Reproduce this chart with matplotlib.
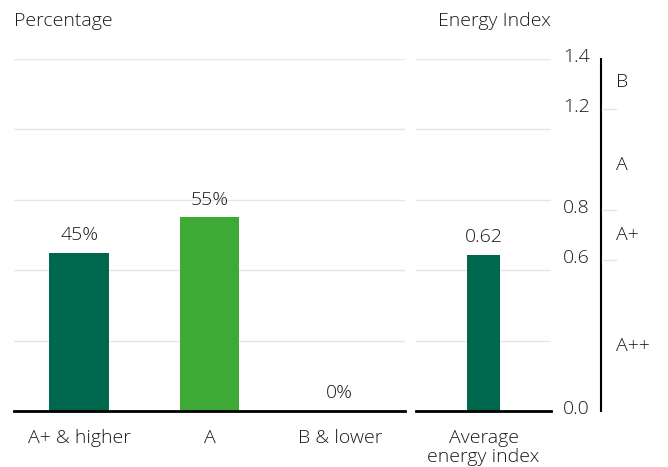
import matplotlib.pyplot as plt

plt.rcParams['font.family'] = ['Open Sans', 'DejaVu Sans']
plt.rcParams['font.weight'] = 'light'

categories = ['A+ & higher', 'A', 'B & lower']
shares = [45, 55, 0]
share_labels = ['45%', '55%', '0%']
bar_colors = ['#00674F', '#3DAA35', '#C9B458']

index_category = ['Average\nenergy index']
index_value = [0.62]

scale_ticks = [0.0, 0.6, 0.8, 1.2, 1.4]
scale_classes = ['A++', 'A+', 'A', 'B']
class_pos = [0.26, 0.7, 0.98, 1.31]

W, H = 668, 467
fig = plt.figure(figsize=(W / 100, H / 100), dpi=100)

bot = (H - 411) / H
top = (H - 59) / H
grid_col = '#E6E6E6'
text_col = '#1A1A1A'
fs = 14

# left panel: percentages
ax1 = fig.add_axes([14 / W, bot, (405 - 14) / W, top - bot])
ax1.bar(range(3), shares, width=0.46, color=bar_colors, zorder=2)
for i, (v, s) in enumerate(zip(shares, share_labels)):
    ax1.text(i, v + 2.5, s, ha='center', va='bottom', fontsize=fs, color=text_col)
ax1.set_ylim(0, 100)
ax1.set_xlim(-0.5, 2.5)
ax1.set_yticks([20, 40, 60, 80, 100])
ax1.yaxis.grid(True, color=grid_col, lw=1)
ax1.tick_params(axis='y', length=0, labelleft=False)
ax1.set_xticks(range(3))
ax1.set_xticklabels(categories, fontsize=fs, color=text_col)
ax1.tick_params(axis='x', length=0, pad=13)
for s in ['top', 'right', 'left']:
    ax1.spines[s].set_visible(False)
ax1.spines['bottom'].set_linewidth(2)
ax1.spines['bottom'].set_zorder(3)
fig.text(14 / W, 1 - 21 / H, 'Percentage', ha='left', va='center', fontsize=fs, color=text_col)

# right panel: energy index
ymax = 1.4
ax2 = fig.add_axes([416 / W, bot, (551 - 416) / W, top - bot])
ax2.bar([0], index_value, width=0.24, color='#00674F', zorder=2)
ax2.text(0, index_value[0] + 0.035, '%.2f' % index_value[0], ha='center', va='bottom',
         fontsize=fs, color=text_col)
ax2.set_ylim(0, ymax)
ax2.set_xlim(-0.5, 0.5)
ax2.set_yticks([ymax * k / 5 for k in range(1, 6)])
ax2.yaxis.grid(True, color=grid_col, lw=1)
ax2.tick_params(axis='y', length=0, labelleft=False)
ax2.set_xticks([0])
ax2.set_xticklabels(index_category, fontsize=fs, color=text_col, linespacing=1.1)
ax2.tick_params(axis='x', length=0, pad=13)
for s in ['top', 'right', 'left']:
    ax2.spines[s].set_visible(False)
ax2.spines['bottom'].set_linewidth(2)
ax2.spines['bottom'].set_zorder(3)
fig.text(494 / W, 1 - 21 / H, 'Energy Index', ha='center', va='center', fontsize=fs, color=text_col)

# class scale
ax3 = fig.add_axes([555 / W, bot, (W - 555) / W, top - bot])
ax3.set_ylim(0, ymax)
ax3.set_xlim(0, W - 555)
ax3.axis('off')
ax3.plot([46, 46], [0, 1.4], color='black', lw=1.5, clip_on=False)
for t in scale_ticks:
    ax3.text(35, t - 0.012, '%.1f' % t, ha='right', va='baseline', fontsize=fs, color=text_col, clip_on=False)
    if 0 < t < 1.4:
        ax3.plot([47, 61], [t, t], color=grid_col, lw=1, clip_on=False)
for c, p in zip(scale_classes, class_pos):
    ax3.text(61, p, c, ha='left', va='center', fontsize=fs, color=text_col, clip_on=False)

fig.savefig('out.png', dpi=100)
